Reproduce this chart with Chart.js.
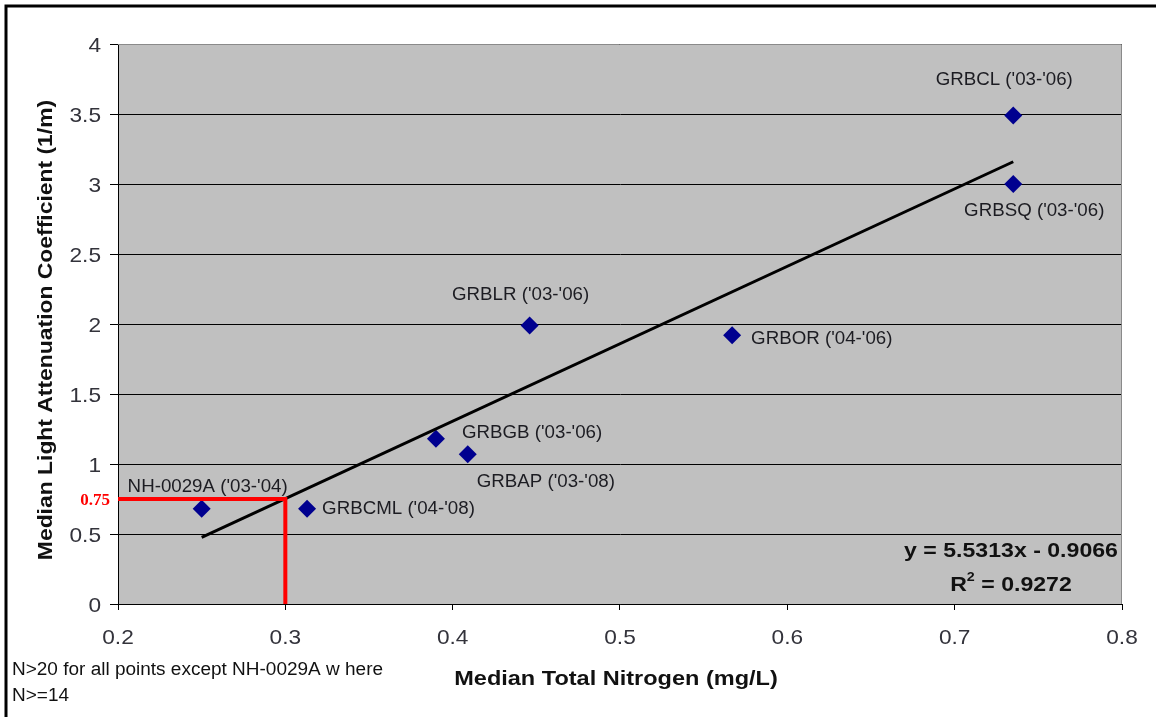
<!DOCTYPE html>
<html>
<head>
<meta charset="utf-8">
<title>Median Light Attenuation vs Median Total Nitrogen</title>
<script src="https://cdn.jsdelivr.net/npm/chart.js@4/dist/chart.umd.min.js"></script>
<style>
  html, body { margin: 0; padding: 0; background: #ffffff; }
  #wrap { position: relative; width: 1156px; height: 717px; }
  canvas { display: block; }
</style>
</head>
<body>
<div id="wrap"><canvas id="chart" width="1156" height="717"></canvas></div>
<script>
// ---- data -------------------------------------------------------------
const siteNames = [
  "NH-0029A ('03-'04)", "GRBCML ('04-'08)", "GRBGB ('03-'06)", "GRBAP ('03-'08)",
  "GRBLR ('03-'06)", "GRBOR ('04-'06)", "GRBCL ('03-'06)", "GRBSQ ('03-'06)"
];
const medianTotalNitrogen = [0.250, 0.313, 0.390, 0.409, 0.446, 0.567, 0.735, 0.735];
const medianAttenuation   = [0.68, 0.68, 1.18, 1.07, 1.99, 1.92, 3.49, 3.00];

// linear trend reported by the regression
const trendSlope = 5.5313;
const trendIntercept = -0.9066;
const trendR2 = "0.9272";

// target guide: attenuation 0.75 reached at TN 0.3
const targetNitrogen = 0.3;
const targetAttenuation = 0.75;
const targetLabel = "0.75";

const xTickValues = [0.2, 0.3, 0.4, 0.5, 0.6, 0.7, 0.8];
const xTickLabels = ["0.2", "0.3", "0.4", "0.5", "0.6", "0.7", "0.8"];
const yTickValues = [0, 0.5, 1, 1.5, 2, 2.5, 3, 3.5, 4];
const yTickLabels = ["0", "0.5", "1", "1.5", "2", "2.5", "3", "3.5", "4"];

const xTitle = "Median Total Nitrogen (mg/L)";
const yTitle = "Median Light Attenuation Coefficient (1/m)";
const footnoteLines = ["N>20 for all points except NH-0029A w here", "N>=14"];

// ---- label placement (pixel offsets from each marker) -------------------
const labelPlacement = [
  { dx: 6,   dy: -23, align: "center" },
  { dx: 15,  dy: -1,  align: "left" },
  { dx: 26,  dy: -7,  align: "left" },
  { dx: 9,   dy: 26,  align: "left" },
  { dx: -9,  dy: -32, align: "center" },
  { dx: 19,  dy: 2,   align: "left" },
  { dx: -9,  dy: -37, align: "center" },
  { dx: 21,  dy: 26,  align: "center" }
];

// ---- helpers -----------------------------------------------------------
const SANS = "'Liberation Sans', Arial, sans-serif";
const SERIF = "'Liberation Serif', 'Times New Roman', serif";

// draws text whose cap-height centre sits on (x, cy), optionally widened / rotated
function capText(ctx, str, x, cy, size, weight, family, color, align, sx, rot) {
  ctx.save();
  ctx.translate(x, cy);
  if (rot) ctx.rotate(rot);
  ctx.scale(sx || 1, 1);
  ctx.font = weight + " " + size + "px " + family;
  ctx.fillStyle = color;
  ctx.textAlign = align;
  ctx.textBaseline = "alphabetic";
  ctx.fillText(str, 0, size * 0.358);
  ctx.restore();
}

const pointsData = medianTotalNitrogen.map((x, i) => ({ x: x, y: medianAttenuation[i] }));
const xLo = Math.min(...medianTotalNitrogen);
const xHi = Math.max(...medianTotalNitrogen);
const trendData = [
  { x: xLo, y: trendSlope * xLo + trendIntercept },
  { x: xHi, y: trendSlope * xHi + trendIntercept }
];
const guideData = [
  { x: xTickValues[0], y: targetAttenuation },
  { x: targetNitrogen, y: targetAttenuation },
  { x: targetNitrogen, y: yTickValues[0] }
];

// plot background, outer frame and plot top/right edges
const framePlugin = {
  id: "frame",
  beforeDraw(chart) {
    const { ctx, chartArea: a } = chart;
    ctx.save();
    ctx.fillStyle = "#ffffff";
    ctx.fillRect(0, 0, chart.width, chart.height);
    ctx.fillStyle = "#c0c0c0";
    ctx.fillRect(a.left, a.top, a.right - a.left, a.bottom - a.top);
    // page frame
    ctx.strokeStyle = "#000000";
    ctx.lineWidth = 3;
    ctx.beginPath();
    ctx.moveTo(6, chart.height);
    ctx.lineTo(6, 6);
    ctx.lineTo(chart.width, 6);
    ctx.stroke();
    ctx.restore();
  },
  beforeDatasetsDraw(chart) {
    const { ctx, chartArea: a } = chart;
    ctx.save();
    ctx.strokeStyle = "#8a8a8a";
    ctx.lineWidth = 1;
    ctx.beginPath();
    ctx.moveTo(a.left, a.top + 0.5);
    ctx.lineTo(a.right - 0.5, a.top + 0.5);
    ctx.lineTo(a.right - 0.5, a.bottom);
    ctx.stroke();
    ctx.restore();
  }
};

// tick labels, titles, point labels, equation and notes
const textPlugin = {
  id: "texts",
  afterDraw(chart) {
    const ctx = chart.ctx;
    const xs = chart.scales.x, ys = chart.scales.y;
    const a = chart.chartArea;

    xTickValues.forEach((v, i) => {
      capText(ctx, xTickLabels[i], xs.getPixelForValue(v), a.bottom + 32, 21, "normal", SANS, "#33333b", "center", 1.08);
    });
    yTickValues.forEach((v, i) => {
      capText(ctx, yTickLabels[i], a.left - 17, ys.getPixelForValue(v), 21, "normal", SANS, "#33333b", "right", 1.08);
    });

    capText(ctx, xTitle, 616, 677.5, 21, "bold", SANS, "#111111", "center", 1.12);
    capText(ctx, yTitle, 44, 330, 21, "bold", SANS, "#111111", "center", 1.09, -Math.PI / 2);

    const meta = chart.getDatasetMeta(0);
    meta.data.forEach((pt, i) => {
      const p = labelPlacement[i];
      capText(ctx, siteNames[i], pt.x + p.dx, pt.y + p.dy, 18, "normal", SANS, "#1c1c22", p.align, 1.04);
    });

    // regression equation
    const eqX = 1011;
    capText(ctx, "y = " + trendSlope + "x - " + Math.abs(trendIntercept), eqX, 549.5, 21, "bold", SANS, "#111111", "center", 1.1);
    ctx.save();
    ctx.font = "bold 21px " + SANS;
    const wR = ctx.measureText("R").width * 1.1;
    const wRest = ctx.measureText(" = " + trendR2).width * 1.1;
    ctx.font = "bold 13px " + SANS;
    const wSup = ctx.measureText("2").width * 1.1;
    ctx.restore();
    const start = eqX - (wR + wSup + wRest) / 2;
    capText(ctx, "R", start, 583, 21, "bold", SANS, "#111111", "left", 1.1);
    capText(ctx, "2", start + wR, 576, 13, "bold", SANS, "#111111", "left", 1.1);
    capText(ctx, " = " + trendR2, start + wR + wSup, 583, 21, "bold", SANS, "#111111", "left", 1.1);

    // target value on the y axis
    capText(ctx, targetLabel, a.left - 8, ys.getPixelForValue(targetAttenuation), 17, "bold", SERIF, "#ff0000", "right", 1.0);

    // sample size note
    capText(ctx, footnoteLines[0], 12, 668.5, 18, "normal", SANS, "#111111", "left", 1.055);
    capText(ctx, footnoteLines[1], 12, 694.5, 18, "normal", SANS, "#111111", "left", 1.055);
  }
};

new Chart(document.getElementById("chart"), {
  type: "scatter",
  data: {
    datasets: [
      {
        label: "Sites",
        data: pointsData,
        pointStyle: "rectRot",
        pointRadius: 9,
        pointHoverRadius: 9,
        backgroundColor: "#00008f",
        borderColor: "#00008f",
        borderWidth: 0,
        order: 2
      },
      {
        label: "Linear trend",
        data: trendData,
        showLine: true,
        borderColor: "#000000",
        borderWidth: 3,
        pointRadius: 0,
        fill: false,
        order: 1
      },
      {
        label: "Target",
        data: guideData,
        showLine: true,
        borderColor: "#ff0000",
        borderWidth: 4,
        pointRadius: 0,
        fill: false,
        borderJoinStyle: "miter",
        order: 0
      }
    ]
  },
  options: {
    responsive: false,
    animation: false,
    events: [],
    layout: { padding: { top: 44, right: 34, left: 0, bottom: 0 } },
    plugins: {
      legend: { display: false },
      tooltip: { enabled: false }
    },
    scales: {
      x: {
        type: "linear",
        min: xTickValues[0],
        max: xTickValues[xTickValues.length - 1],
        afterBuildTicks: s => { s.ticks = xTickValues.map(v => ({ value: v })); },
        afterFit: s => { s.height = 113; },
        ticks: { display: false },
        grid: { drawOnChartArea: false, drawTicks: true, tickLength: 6, color: "#000000", lineWidth: 1 },
        border: { display: true, color: "#000000", width: 1 }
      },
      y: {
        type: "linear",
        min: yTickValues[0],
        max: yTickValues[yTickValues.length - 1],
        afterBuildTicks: s => { s.ticks = yTickValues.map(v => ({ value: v })); },
        afterFit: s => { s.width = 118; },
        ticks: { display: false },
        grid: { drawOnChartArea: true, drawTicks: true, tickLength: 8, color: "#000000", lineWidth: 1 },
        border: { display: true, color: "#000000", width: 1 }
      }
    }
  },
  plugins: [framePlugin, textPlugin]
});
</script>
</body>
</html>
